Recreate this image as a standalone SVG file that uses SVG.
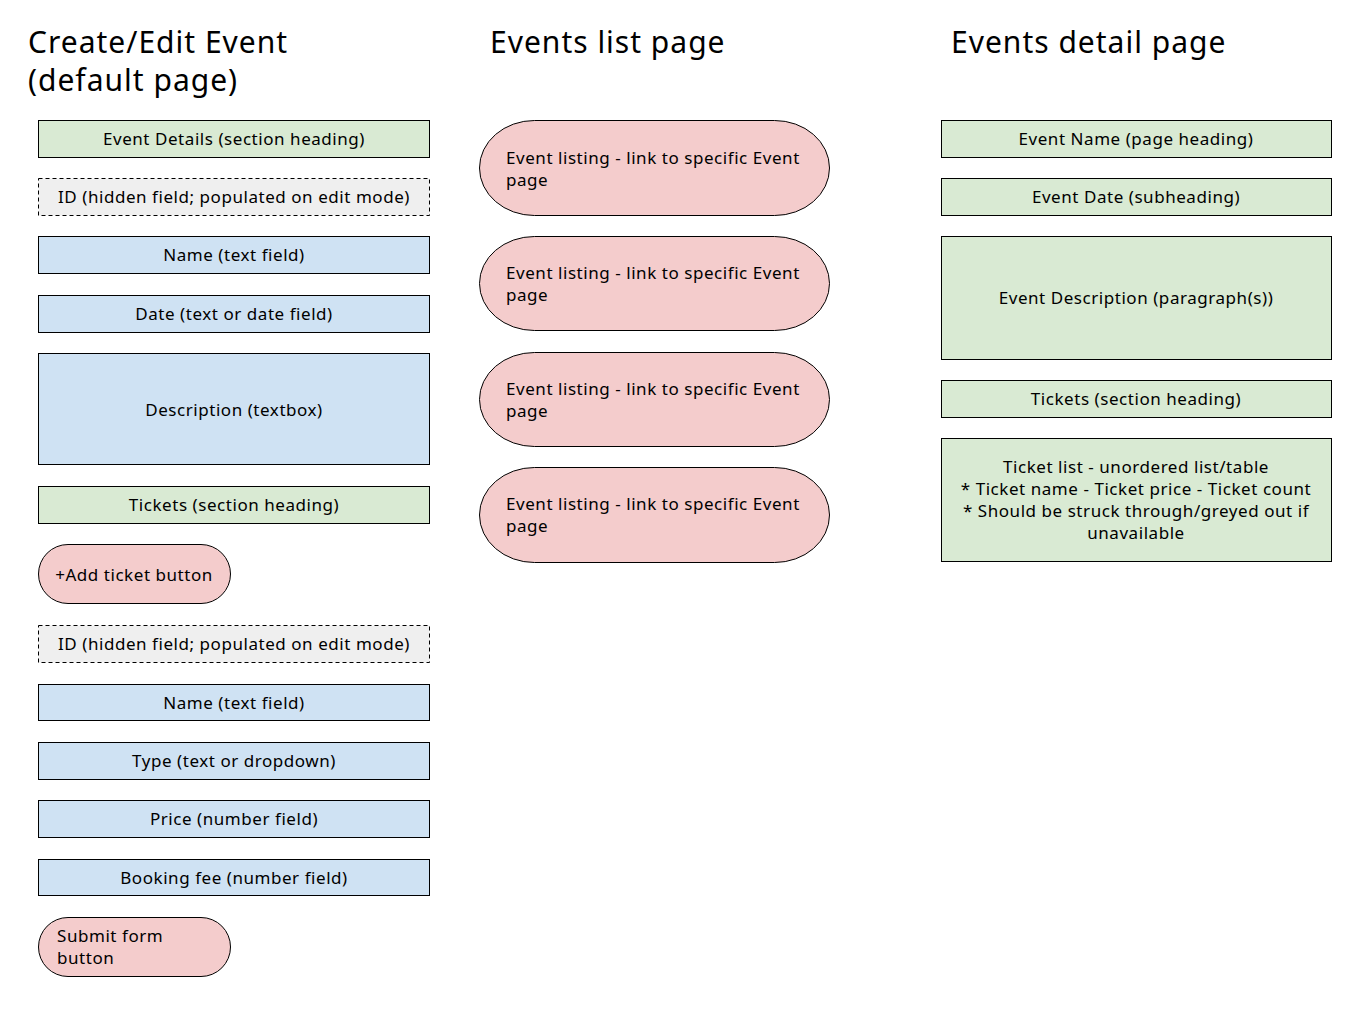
<svg xmlns="http://www.w3.org/2000/svg" width="1369" height="1020" viewBox="0 0 1369 1020">
<style>
text{font-family:"Noto Sans","Liberation Sans",sans-serif;fill:#000}
.t{font-size:30px;letter-spacing:1px}
.l{font-size:17px;letter-spacing:0.55px}
.c{text-anchor:middle}
.g{fill:#d9ead3;stroke:#000;stroke-width:1}
.b{fill:#cfe2f3;stroke:#000;stroke-width:1}
.p{fill:#f4cccc;stroke:#000;stroke-width:1}
.h{fill:#efefef;stroke:#000;stroke-width:1;stroke-dasharray:4 3}
</style>
<rect width="1369" height="1020" fill="#fff"/>
<g id="titles">
<text class="t" x="28" y="53">Create/Edit Event</text>
<text class="t" x="28" y="91">(default page)</text>
<text class="t" x="490" y="53">Events list page</text>
<text class="t" x="951" y="53">Events detail page</text>
</g>
<g id="connectors"></g>
<g id="n1"><rect class="g" x="38.5" y="120.5" width="391" height="37"/><text class="l c" x="234" y="145">Event Details (section heading)</text></g>
<g id="n2"><rect class="h" x="38.5" y="178.5" width="391" height="37"/><text class="l c" x="234" y="203">ID (hidden field; populated on edit mode)</text></g>
<g id="n3"><rect class="b" x="38.5" y="236.5" width="391" height="37"/><text class="l c" x="234" y="261">Name (text field)</text></g>
<g id="n4"><rect class="b" x="38.5" y="295.5" width="391" height="37"/><text class="l c" x="234" y="320">Date (text or date field)</text></g>
<g id="n5"><rect class="b" x="38.5" y="353.5" width="391" height="111"/><text class="l c" x="234" y="416">Description (textbox)</text></g>
<g id="n6"><rect class="g" x="38.5" y="486.5" width="391" height="37"/><text class="l c" x="234" y="511">Tickets (section heading)</text></g>
<g id="n7"><rect class="p" x="38.5" y="544.5" width="192" height="59" rx="29.5" ry="29.5"/><text class="l c" x="134" y="581">+Add ticket button</text></g>
<g id="n8"><rect class="h" x="38.5" y="625.5" width="391" height="37"/><text class="l c" x="234" y="650">ID (hidden field; populated on edit mode)</text></g>
<g id="n9"><rect class="b" x="38.5" y="684.5" width="391" height="36"/><text class="l c" x="234" y="709">Name (text field)</text></g>
<g id="n10"><rect class="b" x="38.5" y="742.5" width="391" height="37"/><text class="l c" x="234" y="767">Type (text or dropdown)</text></g>
<g id="n11"><rect class="b" x="38.5" y="800.5" width="391" height="37"/><text class="l c" x="234" y="825">Price (number field)</text></g>
<g id="n12"><rect class="b" x="38.5" y="859.5" width="391" height="36"/><text class="l c" x="234" y="884">Booking fee (number field)</text></g>
<g id="n13"><rect class="p" x="38.5" y="917.5" width="192" height="59" rx="29.5" ry="29.5"/><text class="l" x="57" y="942">Submit form</text><text class="l" x="57" y="964">button</text></g>
<g id="m1"><rect class="p" x="479.5" y="120.5" width="350" height="95" rx="55" ry="47.5"/><text class="l" x="506" y="164">Event listing - link to specific Event</text><text class="l" x="506" y="186">page</text></g>
<g id="m2"><rect class="p" x="479.5" y="236.5" width="350" height="94" rx="55" ry="47"/><text class="l" x="506" y="279">Event listing - link to specific Event</text><text class="l" x="506" y="301">page</text></g>
<g id="m3"><rect class="p" x="479.5" y="352.5" width="350" height="94" rx="55" ry="47"/><text class="l" x="506" y="395">Event listing - link to specific Event</text><text class="l" x="506" y="417">page</text></g>
<g id="m4"><rect class="p" x="479.5" y="467.5" width="350" height="95" rx="55" ry="47.5"/><text class="l" x="506" y="510">Event listing - link to specific Event</text><text class="l" x="506" y="532">page</text></g>
<g id="r1"><rect class="g" x="941.5" y="120.5" width="390" height="37"/><text class="l c" x="1136" y="145">Event Name (page heading)</text></g>
<g id="r2"><rect class="g" x="941.5" y="178.5" width="390" height="37"/><text class="l c" x="1136" y="203">Event Date (subheading)</text></g>
<g id="r3"><rect class="g" x="941.5" y="236.5" width="390" height="123"/><text class="l c" x="1136" y="304">Event Description (paragraph(s))</text></g>
<g id="r4"><rect class="g" x="941.5" y="380.5" width="390" height="37"/><text class="l c" x="1136" y="405">Tickets (section heading)</text></g>
<g id="r5"><rect class="g" x="941.5" y="438.5" width="390" height="123"/>
<text class="l c" x="1136" y="473">Ticket list - unordered list/table</text>
<text class="l c" x="1136" y="495">* Ticket name - Ticket price - Ticket count</text>
<text class="l c" x="1136" y="517">* Should be struck through/greyed out if</text>
<text class="l c" x="1136" y="539">unavailable</text></g>
</svg>
